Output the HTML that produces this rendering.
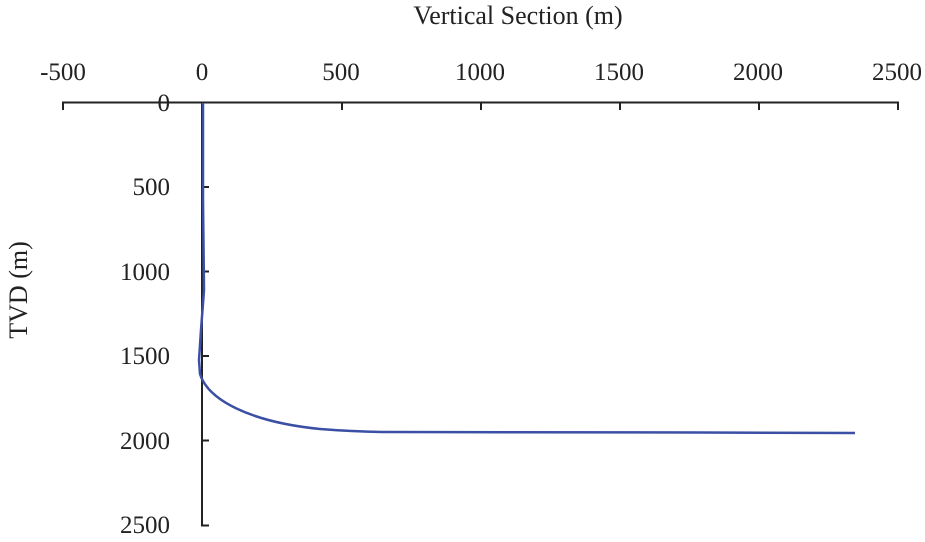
<!DOCTYPE html>
<html><head><style>body{margin:0;background:#fff}svg{display:block}</style></head><body>
<svg width="925" height="542" xmlns="http://www.w3.org/2000/svg" font-family="Liberation Serif, serif" fill="#222">
<text x="518" y="24" font-size="26" text-anchor="middle">Vertical Section (m)</text>
<g font-size="25" text-anchor="middle">
<text x="63" y="80">-500</text><text x="202" y="80">0</text><text x="341" y="80">500</text><text x="480" y="80">1000</text><text x="619" y="80">1500</text><text x="758" y="80">2000</text><text x="897" y="80">2500</text>
</g>
<g font-size="25" text-anchor="end">
<text x="170" y="111">0</text><text x="170" y="195">500</text><text x="170" y="280">1000</text><text x="170" y="364">1500</text><text x="170" y="449">2000</text><text x="170" y="533">2500</text>
</g>
<text transform="translate(27,290) rotate(-90)" font-size="26" text-anchor="middle">TVD (m)</text>
<g stroke="#222" stroke-width="2" fill="none">
<path d="M63 110V102.5H898V110M342 102.5V110M481 102.5V110M620 102.5V110M759 102.5V110"/>
<path d="M202 102.5V525.5H209M202 187H209M202 271.5H209M202 356H209M202 440.5H209"/>
</g>
<path d="M203 103L203 200L204 290L201 330L199 360L200 374C208 400 250 422 320 429C345 431 365 432 390 432L700 432.5L855 433" stroke="#3b4fa5" stroke-width="2.5" fill="none"/>
</svg>
</body></html>
